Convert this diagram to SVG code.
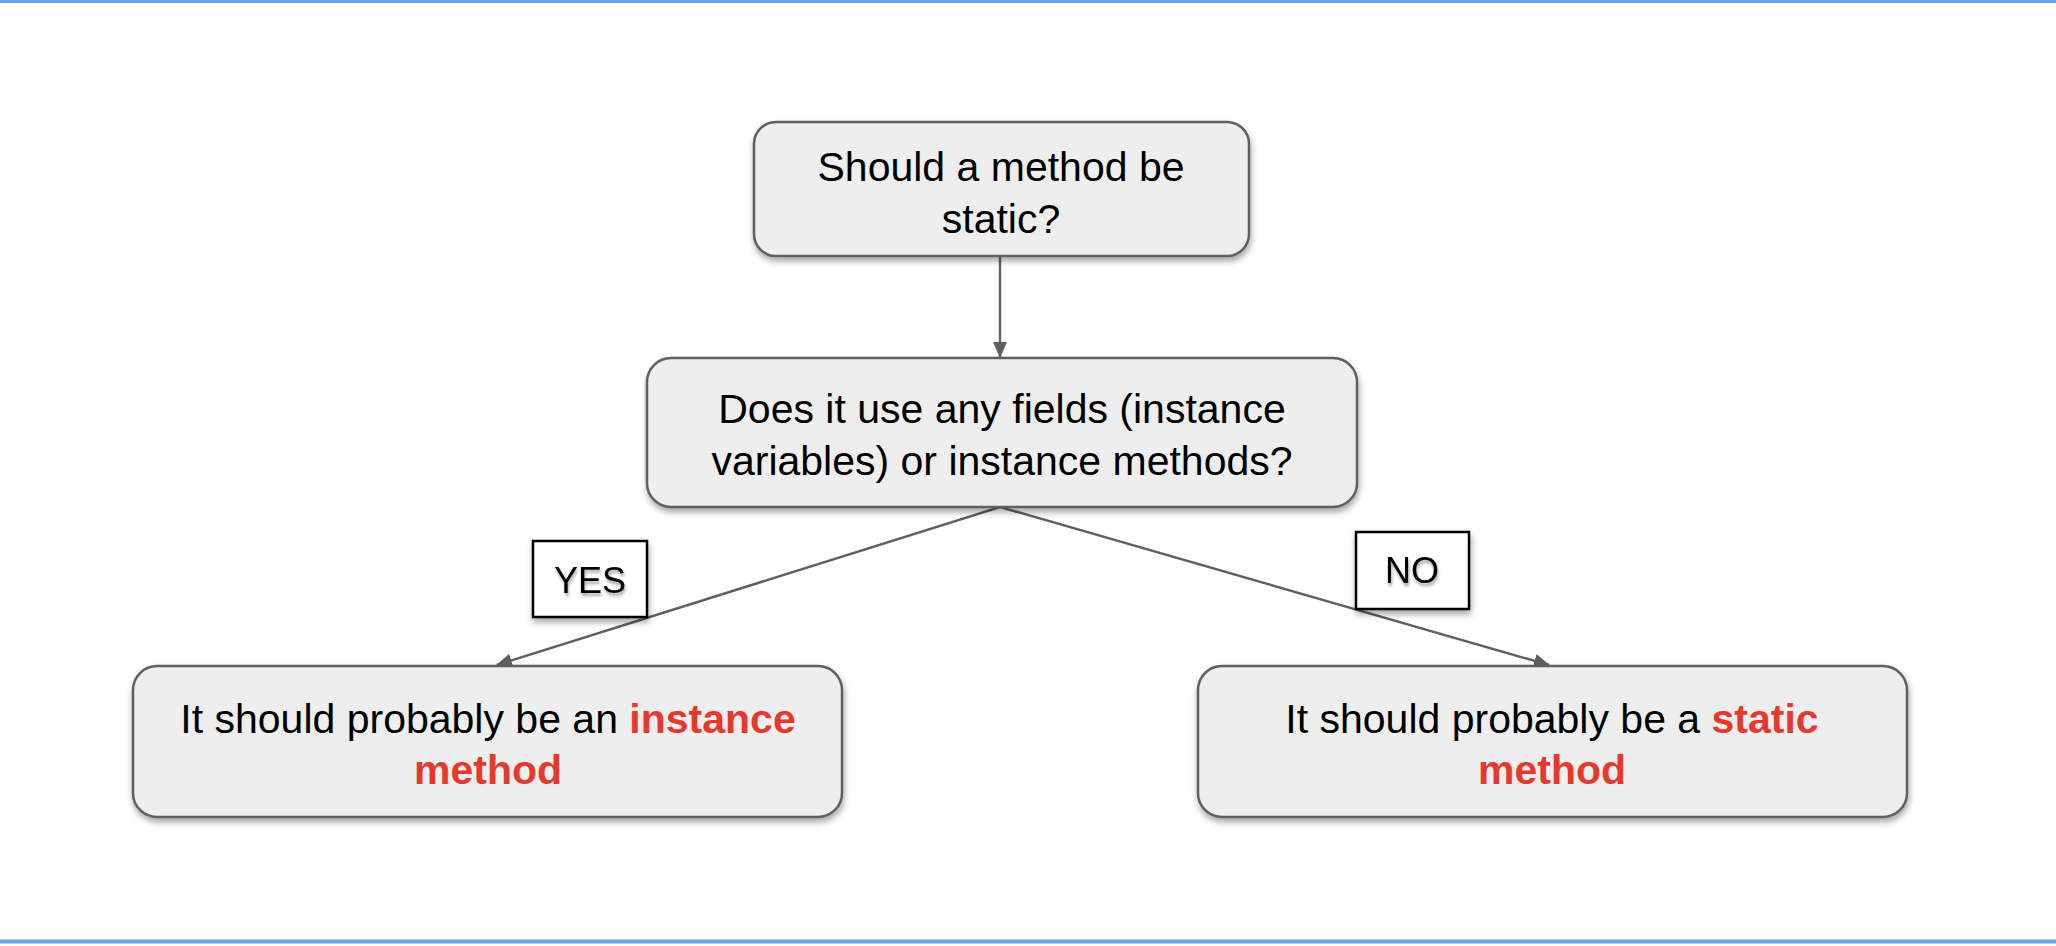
<svg xmlns="http://www.w3.org/2000/svg" width="2056" height="946" viewBox="0 0 2056 946">
<defs>
<style>
.node{fill:#eeeeee;stroke:#5f5f5f;stroke-width:2.5}
.t{font-family:"Liberation Sans",Arial,sans-serif;font-size:41px;fill:#000;text-anchor:middle}
.r{fill:#e5392d;font-weight:bold}
.lbl{fill:#fff;stroke:#000;stroke-width:2.5}
.lt{font-family:"Liberation Sans",Arial,sans-serif;font-size:36px;fill:#000;text-anchor:middle}
.conn{stroke:#5f5f5f;stroke-width:2.4;fill:none}
</style>
<filter id="sh" x="-10%" y="-10%" width="120%" height="130%">
<feDropShadow dx="1" dy="4" stdDeviation="3" flood-color="#000" flood-opacity="0.35"/>
</filter>
<filter id="tsh" x="-10%" y="-20%" width="130%" height="150%">
<feDropShadow dx="1" dy="3" stdDeviation="1.6" flood-color="#000" flood-opacity="0.35"/>
</filter>
<marker id="arr" markerWidth="16" markerHeight="14" refX="15" refY="7" orient="auto" markerUnits="userSpaceOnUse">
<path d="M0,0 L16,7 L0,14 Z" fill="#5f5f5f"/>
</marker>
</defs>
<rect x="0" y="0" width="2056" height="946" fill="#fff"/>
<line x1="0" y1="1.5" x2="2056" y2="1.5" stroke="#6aa5ec" stroke-width="3"/>
<line x1="0" y1="941.5" x2="2056" y2="941.5" stroke="#6aa5ec" stroke-width="4"/>

<g id="connectors">
<line class="conn" x1="1000" y1="257" x2="1000" y2="357" marker-end="url(#arr)"/>
<line class="conn" x1="1000" y1="507" x2="497" y2="665" marker-end="url(#arr)"/>
<line class="conn" x1="1000" y1="507" x2="1549" y2="665" marker-end="url(#arr)"/>
</g>

<g id="node-start">
<rect class="node" x="754" y="122" width="495" height="134" rx="22" filter="url(#sh)"/>
<text class="t" x="1001" y="181">Should a method be</text>
<text class="t" x="1001" y="233">static?</text>
</g>

<g id="node-question">
<rect class="node" x="647" y="358" width="710" height="149" rx="24" filter="url(#sh)"/>
<text class="t" x="1002" y="423">Does it use any fields (instance</text>
<text class="t" x="1002" y="475">variables) or instance methods?</text>
</g>

<g id="node-instance">
<rect class="node" x="133" y="666" width="709" height="151" rx="24" filter="url(#sh)"/>
<text class="t" x="488" y="733">It should probably be an <tspan class="r">instance</tspan></text>
<text class="t r" x="488" y="784">method</text>
</g>

<g id="node-static">
<rect class="node" x="1198" y="666" width="709" height="151" rx="24" filter="url(#sh)"/>
<text class="t" x="1552" y="733">It should probably be a <tspan class="r">static</tspan></text>
<text class="t r" x="1552" y="784">method</text>
</g>

<g id="label-yes">
<rect class="lbl" x="533" y="541" width="114" height="76" filter="url(#sh)"/>
<text class="lt" x="590" y="593" filter="url(#tsh)">YES</text>
</g>

<g id="label-no">
<rect class="lbl" x="1356" y="532" width="113" height="77" filter="url(#sh)"/>
<text class="lt" x="1412" y="583" filter="url(#tsh)">NO</text>
</g>
</svg>
